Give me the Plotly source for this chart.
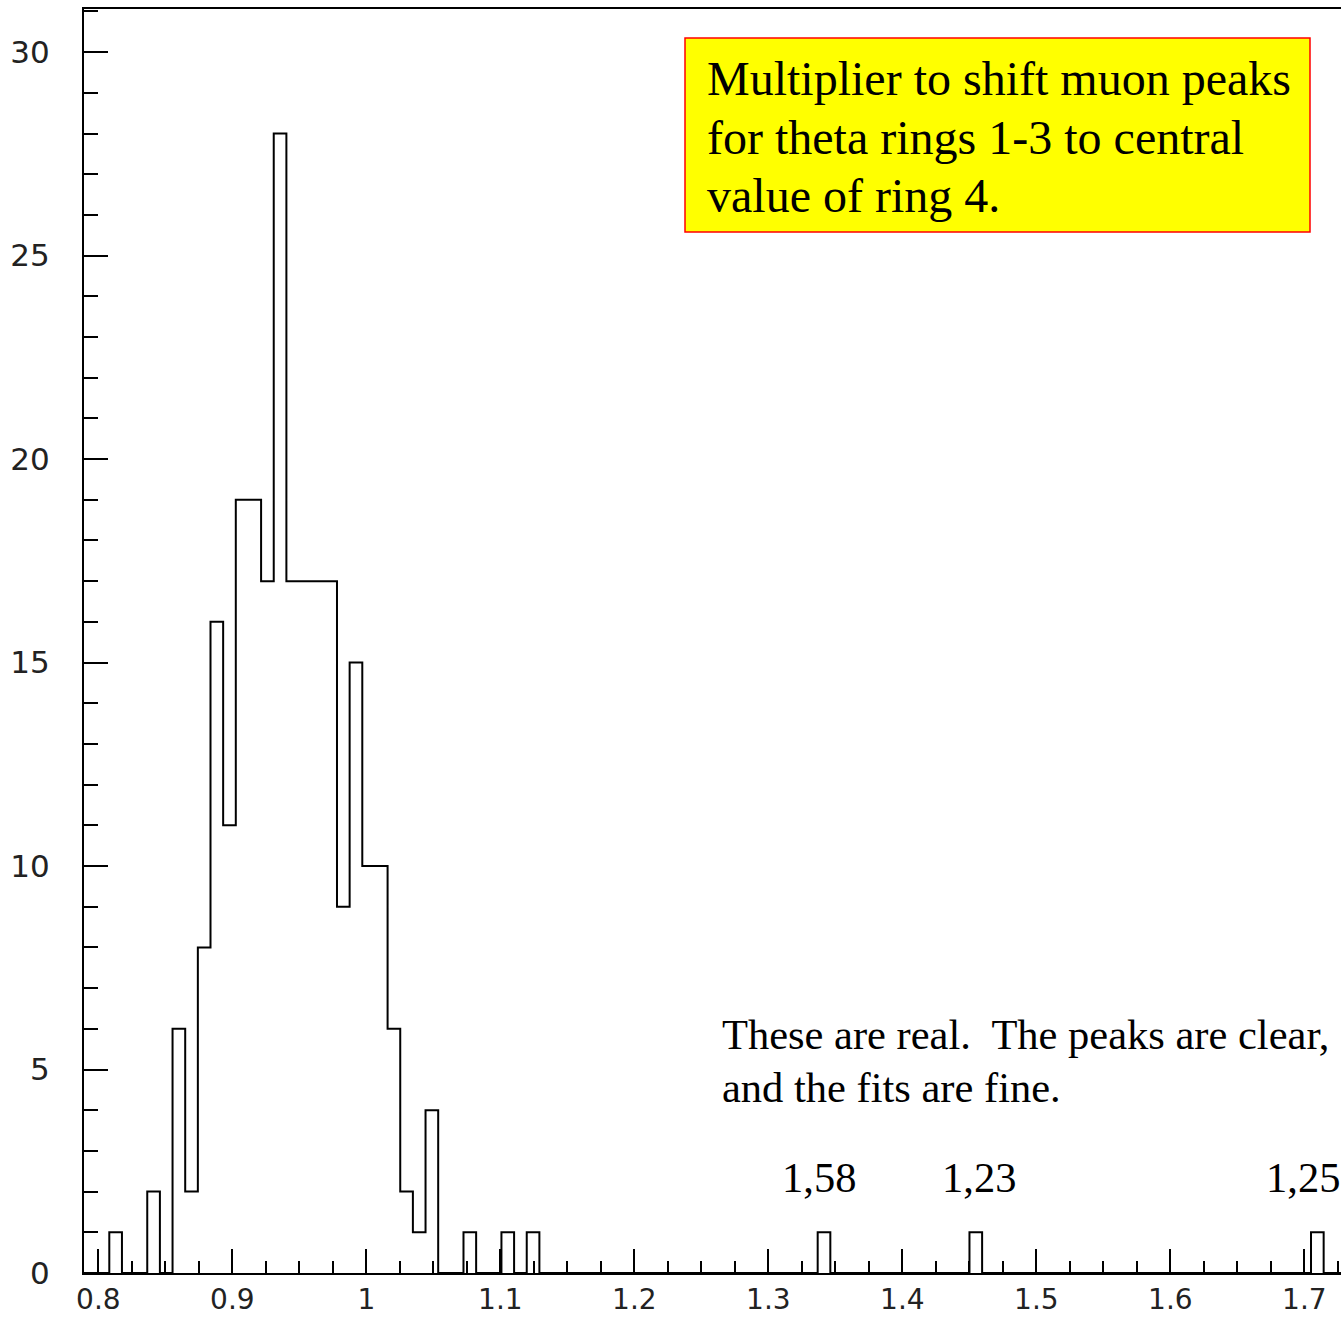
import numpy as np
import plotly.graph_objects as go

# Histogram binning (100 equal bins starting at the lower edge)
bin_low_edge = 0.7893
bin_width = 0.00944
n_bins = 100

# Non-empty bins: bin index -> entries
filled_bins = [2, 5, 7, 8, 9, 10, 11, 12, 13, 14, 15, 16, 17, 18, 19,
               20, 21, 22, 23, 24, 25, 26, 27, 30, 33, 35, 58, 70, 97]
filled_counts = [1, 2, 6, 2, 8, 16, 11, 19, 19, 17, 28, 17, 17, 17, 17,
                 9, 15, 10, 10, 6, 2, 1, 4, 1, 1, 1, 1, 1, 1]

# Axis ticks
x_tick_vals = [0.8, 0.9, 1.0, 1.1, 1.2, 1.3, 1.4, 1.5, 1.6, 1.7]
x_tick_text = ["0.8", "0.9", "1", "1.1", "1.2", "1.3", "1.4", "1.5", "1.6", "1.7"]
y_tick_vals = [0, 5, 10, 15, 20, 25, 30]
y_tick_text = ["0", "5", "10", "15", "20", "25", "30"]

# Fit results written above the outlying entries
peak_label_x = [1.3378, 1.4572, 1.6987]
peak_label_text = ["1,58", "1,23", "1,25"]

counts = np.zeros(n_bins)
counts[filled_bins] = filled_counts
edges = bin_low_edge + bin_width * np.arange(n_bins + 1)

# Step outline of the histogram
step_x = edges
step_y = np.append(counts, 0)

fig = go.Figure()
fig.add_trace(go.Scatter(
    x=step_x, y=step_y, mode="lines",
    line=dict(shape="hv", color="black", width=2),
    showlegend=False, hoverinfo="skip", cliponaxis=False,
))

W, H = 1341, 1317
ML, MR, MT, MB = 84, 0, 9, 44
x_range = [bin_low_edge, bin_low_edge + (W - ML - MR) / 1340.0]
y_range = [0, 31.06]

y_tick_font = dict(family="DejaVu Sans", size=31, color="#222")
x_tick_font = dict(family="DejaVu Sans", size=28, color="#222")

fig.update_layout(
    width=W, height=H,
    margin=dict(l=ML, r=MR, t=MT, b=MB, autoexpand=False),
    paper_bgcolor="white", plot_bgcolor="white",
    showlegend=False,
    xaxis=dict(
        range=x_range, showgrid=False, zeroline=False, automargin=False,
        showline=True, linecolor="black", linewidth=2, mirror=True,
        ticks="inside", ticklen=24, tickwidth=1.5, tickcolor="black",
        tickvals=x_tick_vals, ticktext=x_tick_text,
        tickfont=x_tick_font, ticklabelstandoff=0,
        minor=dict(ticks="inside", ticklen=12, tickwidth=1.5,
                   tickcolor="black", dtick=0.025, tick0=0.8),
    ),
    yaxis=dict(
        range=y_range, showgrid=False, zeroline=False, automargin=False,
        showline=True, linecolor="black", linewidth=2,
        ticks="inside", ticklen=24, tickwidth=1.5, tickcolor="black",
        tickvals=y_tick_vals, ticktext=y_tick_text,
        tickfont=y_tick_font, ticklabelstandoff=26,
        minor=dict(ticks="inside", ticklen=14, tickwidth=1.5,
                   tickcolor="black", dtick=1, tick0=0),
    ),
)

pw = W - ML - MR
ph = H - MT - MB


def px_x(p):
    return (p - ML) / pw


def px_y(p):
    return (H - MB - p) / ph


# Yellow note box
fig.add_shape(
    type="rect", xref="paper", yref="paper",
    x0=px_x(685), x1=px_x(1310), y0=px_y(232), y1=px_y(38),
    fillcolor="#ffff00", line=dict(color="#ff0000", width=1.5),
)

serif = "Liberation Serif, Times New Roman, serif"
box_lines = ["Multiplier to shift muon peaks",
             "for theta rings 1-3 to central",
             "value of ring 4."]
for text, yc in zip(box_lines, [79, 137, 195]):
    fig.add_annotation(
        text=text, xref="paper", yref="paper",
        x=px_x(705), y=px_y(yc), xanchor="left", yanchor="middle",
        showarrow=False, font=dict(family=serif, size=48, color="black"),
    )

note_lines = ["These are real.\u00a0 The peaks are clear,",
              "and the fits are fine."]
for text, yc in zip(note_lines, [1034, 1087]):
    fig.add_annotation(
        text=text, xref="paper", yref="paper",
        x=px_x(720), y=px_y(yc), xanchor="left", yanchor="middle",
        showarrow=False, font=dict(family=serif, size=42.5, color="black"),
    )

for xv, text in zip(peak_label_x, peak_label_text):
    fig.add_annotation(
        text=text, x=xv, y=2.35, xref="x", yref="y",
        xanchor="center", yanchor="middle", showarrow=False,
        font=dict(family=serif, size=42.5, color="black"),
    )

fig.write_html("out.html")
